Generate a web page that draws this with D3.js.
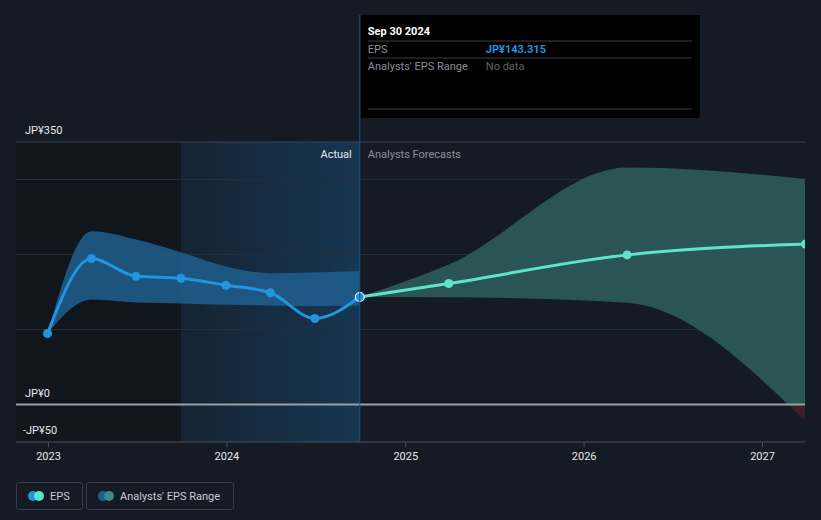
<!DOCTYPE html>
<html>
<head>
<meta charset="utf-8">
<script src="https://cdn.jsdelivr.net/npm/d3@7"></script>
<style>
  html, body { margin: 0; padding: 0; background: #151b25; }
  svg { display: block; font-family: Roboto, "Noto Sans", sans-serif; }
</style>
</head>
<body>
<svg id="chart" width="821" height="520"></svg>
<script>
// actual EPS (reported)
var actualDates = ['2022-12-31', '2023-03-31', '2023-06-30', '2023-09-30', '2023-12-31', '2024-03-31', '2024-06-30', '2024-09-30'];
var actualEps = [94.7, 194.7, 171, 168.4, 159, 149, 114.7, 143.315];
// analysts' range over the actual period
var actualLow = [94.7, 140, 136, 134.7, 133, 132, 131, 132];
var actualHigh = [94.7, 231, 220, 203, 184, 175, 176, 178];

// analysts' forecasts
var forecastDates = ['2024-09-30', '2025-03-31', '2026-03-31', '2027-03-31'];
var forecastEps = [143.315, 161.3, 199.5, 214];
var forecastLow = [143.315, 143, 135.6, -22];
var forecastHigh = [143.315, 186.7, 316, 300.7];

var yearTicks = ['2023', '2024', '2025', '2026', '2027'];
var yTickValues = [350, 0, -50];
var yGridValues = [100, 200, 300];

var parse = d3.timeParse('%Y-%m-%d');
var toRows = function(dates, mid, lo, hi) {
    return dates.map(function(d, i) {
        return { date: parse(d), eps: mid[i], low: lo[i], high: hi[i] };
    });
};
var actual = toRows(actualDates, actualEps, actualLow, actualHigh);
var forecast = toRows(forecastDates, forecastEps, forecastLow, forecastHigh);

var plotLeft = 16, plotRight = 805, plotTop = 142, plotBottom = 442;

var x = d3.scaleTime()
    .domain([new Date(2023, 0, 1), new Date(2027, 0, 1)])
    .range([48, 762]);
var y = d3.scaleLinear().domain([-50, 350]).range([plotBottom, plotTop]);

var svg = d3.select('#chart');
var defs = svg.append('defs');

var grad = defs.append('linearGradient').attr('id', 'hl').attr('x1', 0).attr('x2', 1).attr('y1', 0).attr('y2', 0);
grad.append('stop').attr('offset', '0%').attr('stop-color', '#1a5c8f').attr('stop-opacity', 0.12);
grad.append('stop').attr('offset', '100%').attr('stop-color', '#1a5c8f').attr('stop-opacity', 0.42);

defs.append('clipPath').attr('id', 'plot').append('rect')
    .attr('x', plotLeft).attr('y', 0).attr('width', plotRight - plotLeft).attr('height', plotBottom);
defs.append('clipPath').attr('id', 'above').append('rect')
    .attr('x', plotLeft).attr('y', 0).attr('width', plotRight - plotLeft).attr('height', y(0));
defs.append('clipPath').attr('id', 'below').append('rect')
    .attr('x', plotLeft).attr('y', y(0)).attr('width', plotRight - plotLeft).attr('height', plotBottom - y(0));

var now = parse('2024-09-30');
var yearAgo = parse('2023-09-30');

// past shading
svg.append('rect').attr('x', plotLeft).attr('y', plotTop).attr('width', x(yearAgo) - plotLeft)
    .attr('height', plotBottom - plotTop).attr('fill', '#11161d');
svg.append('rect').attr('x', x(yearAgo)).attr('y', plotTop).attr('width', x(now) - x(yearAgo))
    .attr('height', plotBottom - plotTop).attr('fill', 'url(#hl)');

// grid
svg.selectAll('.grid').data(yGridValues).enter().append('line')
    .attr('x1', plotLeft).attr('x2', plotRight)
    .attr('y1', function(d) { return y(d) }).attr('y2', function(d) { return y(d) })
    .attr('stroke', '#252d38').attr('stroke-width', 1);
svg.append('line').attr('x1', plotLeft).attr('x2', plotRight).attr('y1', y(350)).attr('y2', y(350))
    .attr('stroke', '#3c4350').attr('stroke-width', 1);

var area = d3.area().curve(d3.curveMonotoneX)
    .x(function(d) { return x(d.date) })
    .y0(function(d) { return y(d.low) })
    .y1(function(d) { return y(d.high) });
var line = d3.line().curve(d3.curveMonotoneX)
    .x(function(d) { return x(d.date) })
    .y(function(d) { return y(d.eps) });

var g = svg.append('g').attr('clip-path', 'url(#plot)');
g.append('path').datum(actual).attr('d', area).attr('fill', '#1f5f8e').attr('opacity', 0.85);
g.append('g').attr('clip-path', 'url(#above)').append('path').datum(forecast)
    .attr('d', area).attr('fill', '#2e5a59').attr('opacity', 0.92);
g.append('g').attr('clip-path', 'url(#below)').append('path').datum(forecast)
    .attr('d', area).attr('fill', '#3a2129');

// zero line and bottom axis
svg.append('line').attr('x1', plotLeft).attr('x2', plotRight).attr('y1', y(0)).attr('y2', y(0))
    .attr('stroke', '#9a9ea6').attr('stroke-width', 2);
svg.append('line').attr('x1', plotLeft).attr('x2', plotRight).attr('y1', plotBottom).attr('y2', plotBottom)
    .attr('stroke', '#4a505b').attr('stroke-width', 1);

// now marker
svg.append('line').attr('x1', x(now)).attr('x2', x(now)).attr('y1', 15).attr('y2', plotBottom)
    .attr('stroke', '#1d5580').attr('stroke-width', 1);

// lines
g.append('path').datum(actual).attr('d', line).attr('fill', 'none')
    .attr('stroke', '#2394df').attr('stroke-width', 3);
g.append('path').datum(forecast).attr('d', line).attr('fill', 'none')
    .attr('stroke', '#5fe3cb').attr('stroke-width', 3);

g.selectAll('.fdot').data(forecast.slice(1)).enter().append('circle')
    .attr('cx', function(d) { return x(d.date) }).attr('cy', function(d) { return y(d.eps) })
    .attr('r', 4.5).attr('fill', '#5fe3cb');
g.selectAll('.adot').data(actual).enter().append('circle')
    .attr('cx', function(d) { return x(d.date) }).attr('cy', function(d) { return y(d.eps) })
    .attr('r', 4.5)
    .attr('fill', '#2394df')
    .attr('stroke', function(d, i) { return i == actual.length - 1 ? '#ffffff' : 'none' })
    .attr('stroke-width', 1.2);

// y labels
svg.selectAll('.ylab').data(yTickValues).enter().append('text')
    .attr('x', function(d) { return d < 0 ? 23 : 25 })
    .attr('y', function(d) { return y(d) - 8 })
    .attr('fill', '#e8e8ea').attr('font-size', 11)
    .text(function(d) { return (d < 0 ? '-' : '') + 'JP¥' + Math.abs(d) });

// x axis
var xAxis = svg.append('g').attr('transform', 'translate(0,' + plotBottom + ')')
    .call(d3.axisBottom(x)
        .tickValues(yearTicks.map(function(t) { return new Date(+t, 0, 1) }))
        .tickFormat(d3.timeFormat('%Y')).tickSize(5).tickPadding(5));
xAxis.select('.domain').remove();
xAxis.selectAll('line').attr('stroke', '#4a505b');
xAxis.selectAll('text').attr('fill', '#e8e8ea').attr('font-size', 11)
    .attr('font-family', 'Roboto, sans-serif');

// section labels
svg.append('text').attr('x', x(now) - 8).attr('y', 158).attr('text-anchor', 'end')
    .attr('fill', '#e8e8ea').attr('font-size', 11).text('Actual');
svg.append('text').attr('x', x(now) + 8).attr('y', 158)
    .attr('fill', '#8c9099').attr('font-size', 11).text('Analysts Forecasts');

// tooltip
var tip = svg.append('g').attr('transform', 'translate(' + (x(now) + 1) + ',15)');
tip.append('rect').attr('width', 339).attr('height', 103).attr('fill', '#000000');
tip.append('text').attr('x', 7).attr('y', 20).attr('fill', '#ffffff').attr('font-size', 11)
    .attr('font-weight', 'bold').text('Sep 30 2024');
[26, 43, 94].forEach(function(yy) {
    tip.append('line').attr('x1', 7).attr('x2', 331).attr('y1', yy).attr('y2', yy)
        .attr('stroke', '#3a3d44').attr('stroke-width', 1);
});
tip.append('text').attr('x', 7).attr('y', 38).attr('fill', '#8c8f96').attr('font-size', 11).text('EPS');
tip.append('text').attr('x', 125).attr('y', 38).attr('fill', '#2394df').attr('font-size', 11)
    .attr('font-weight', 'bold').text('JP¥143.315');
tip.append('text').attr('x', 7).attr('y', 55).attr('fill', '#8c8f96').attr('font-size', 11).text("Analysts' EPS Range");
tip.append('text').attr('x', 125).attr('y', 55).attr('fill', '#5f626a').attr('font-size', 11).text('No data');

// legend
var legend = [
    { label: 'EPS', c1: '#2394df', c2: '#5fe3cb', x: 16, w: 66 },
    { label: "Analysts' EPS Range", c1: '#1f5f8e', c2: '#3d8a86', x: 86, w: 147 }
];
var lg = svg.selectAll('.legend').data(legend).enter().append('g')
    .attr('transform', function(d) { return 'translate(' + d.x + ',482)' });
lg.append('rect').attr('x', 0.5).attr('y', 0.5).attr('width', function(d) { return d.w })
    .attr('height', 27).attr('rx', 3).attr('fill', 'none').attr('stroke', '#3a3f4a');
lg.append('circle').attr('cx', 17).attr('cy', 14).attr('r', 5).attr('fill', function(d) { return d.c1 });
lg.append('circle').attr('cx', 23).attr('cy', 14).attr('r', 5).attr('fill', function(d) { return d.c2 });
lg.append('text').attr('x', 34).attr('y', 18).attr('fill', '#c8cad0').attr('font-size', 11)
    .text(function(d) { return d.label });
</script>
</body>
</html>
